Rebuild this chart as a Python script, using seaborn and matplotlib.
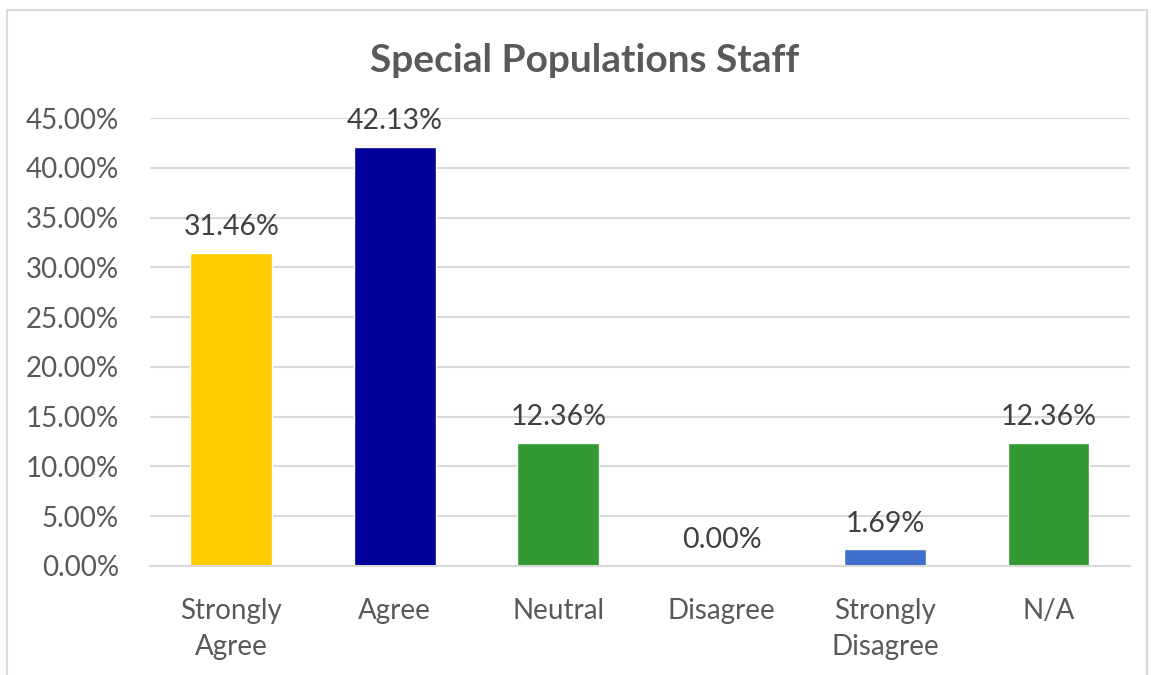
import matplotlib
matplotlib.use("Agg")
import matplotlib.pyplot as plt
import seaborn as sns
import pandas as pd
from matplotlib.patches import Rectangle
from matplotlib.ticker import FuncFormatter

# Chart data
categories = ["Strongly\nAgree", "Agree", "Neutral", "Disagree", "Strongly\nDisagree", "N/A"]
percentages = [31.46, 42.13, 12.36, 0.00, 1.69, 12.36]
bar_colors = ["#FFCC00", "#000099", "#339933", "#4472C4", "#3F6FCB", "#339933"]
y_ticks = [0, 5, 10, 15, 20, 25, 30, 35, 40, 45]

df = pd.DataFrame({"category": categories, "pct": percentages})

sns.set_theme(style="white")
plt.rcParams["font.family"] = ["Lato", "DejaVu Sans"]

fig = plt.figure(figsize=(11.51, 6.75), dpi=100)
ax = fig.add_axes([0.130, 0.1615, 0.852, 0.6635])

sns.barplot(data=df, x="category", y="pct", hue="category",
            palette=bar_colors, width=0.5, legend=False, ax=ax, saturation=1)

ax.set_ylim(0, 45)
ax.set_yticks(y_ticks)
ax.yaxis.set_major_formatter(FuncFormatter(lambda v, _: f"{v:.2f}%"))
ax.grid(axis="y", color="#D9D9D9", linewidth=1.5)
ax.set_axisbelow(True)
for s in ["left", "right", "top"]:
    ax.spines[s].set_visible(False)
ax.spines["bottom"].set_color("#D9D9D9")
ax.spines["bottom"].set_linewidth(1.5)

ax.tick_params(axis="y", labelsize=20, labelcolor="#595959", length=0, pad=22)
ax.tick_params(axis="x", labelsize=20, labelcolor="#595959", length=0, pad=23)
for lbl in ax.get_xticklabels():
    lbl.set_linespacing(1.5)
ax.set_xlabel("")
ax.set_ylabel("")

# Data labels
for container in ax.containers:
    ax.bar_label(container, labels=[f"{v:.2f}%" for v in container.datavalues],
                 padding=9, fontsize=20.5, color="#404040")

fig.suptitle("Special Populations Staff", x=0.508, y=0.937, fontsize=28,
             fontweight="bold", color="#595959")

# chart border
fig.patches.append(Rectangle((7 / 1151, -0.02), 1140 / 1151, 1.005, transform=fig.transFigure,
                             fill=False, edgecolor="#D9D9D9", linewidth=1.5))

fig.savefig("out.png", dpi=100)
